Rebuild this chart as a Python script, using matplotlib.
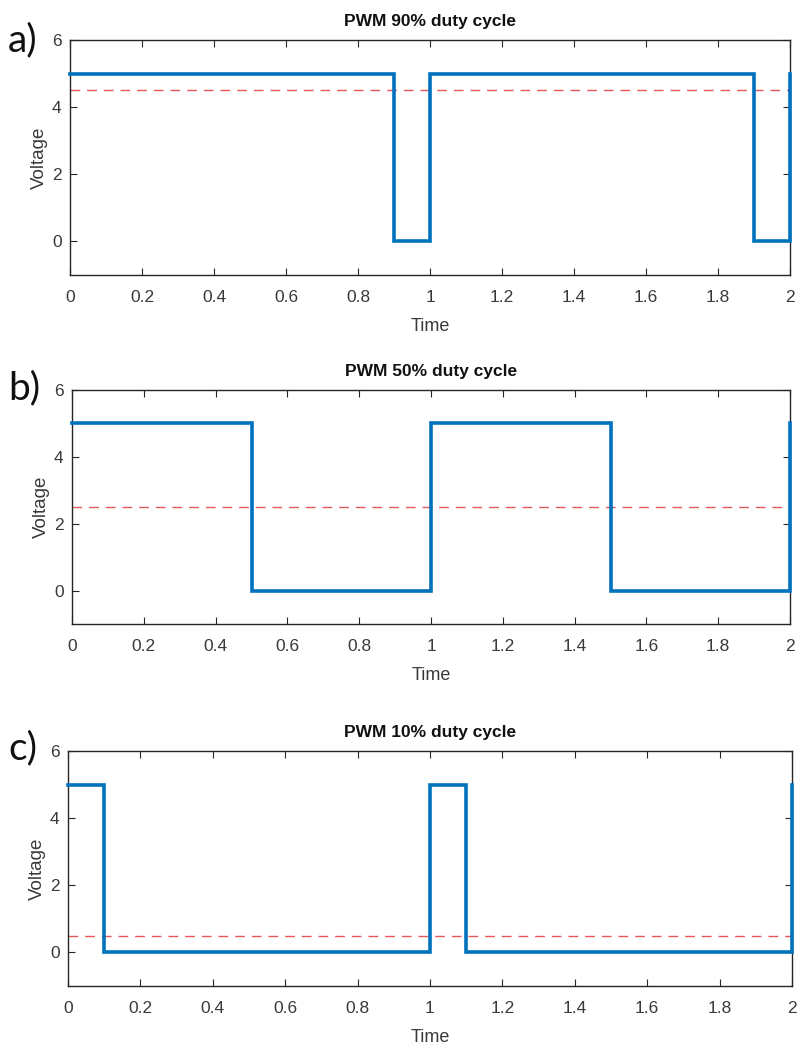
import matplotlib
matplotlib.use("Agg")
import matplotlib.pyplot as plt

# Data
t_90 = [0, 0.9, 0.9, 1.0, 1.0, 1.9, 1.9, 2.0, 2.0]
v_90 = [5, 5, 0, 0, 5, 5, 0, 0, 5]
t_50 = [0, 0.5, 0.5, 1.0, 1.0, 1.5, 1.5, 2.0, 2.0]
v_50 = [5, 5, 0, 0, 5, 5, 0, 0, 5]
t_10 = [0, 0.1, 0.1, 1.0, 1.0, 1.1, 1.1, 2.0, 2.0]
v_10 = [5, 5, 0, 0, 5, 5, 0, 0, 5]
avg_levels = [4.5, 2.5, 0.5]
titles = ["PWM 90% duty cycle", "PWM 50% duty cycle", "PWM 10% duty cycle"]
panel_labels = ["a)", "b)", "c)"]
xticks = [0, 0.2, 0.4, 0.6, 0.8, 1.0, 1.2, 1.4, 1.6, 1.8, 2.0]
xticklabels = ["0", "0.2", "0.4", "0.6", "0.8", "1", "1.2", "1.4", "1.6", "1.8", "2"]
yticks = [0, 2, 4, 6]

W, H = 797, 1045
fig = plt.figure(figsize=(W / 100, H / 100), dpi=100)
plt.rcParams['font.family'] = ['Liberation Sans', 'DejaVu Sans']

# axes pixel boxes: left, top, right, bottom
boxes = [(70, 40, 790, 275), (72, 390, 790, 624), (68, 751, 792, 986)]
series = [(t_90, v_90), (t_50, v_50), (t_10, v_10)]
label_y = [40, 388, 748]

tc = '#262626'
for i, (box, (t, v)) in enumerate(zip(boxes, series)):
    l, tp, r, b = box
    ax = fig.add_axes([l / W, 1 - b / H, (r - l) / W, (b - tp) / H])
    ax.plot(t, v, color='#0072BD', lw=2.6, solid_joinstyle='miter', clip_on=False, zorder=3)
    ax.axhline(avg_levels[i], color='#e8575a', lw=1.0, ls=(0, (7, 5)), zorder=2)
    ax.set_xlim(0, 2)
    ax.set_ylim(-1, 6)
    ax.set_xticks(xticks)
    ax.set_xticklabels(xticklabels)
    ax.set_yticks(yticks)
    ax.tick_params(direction='in', length=5, width=0.8, top=True, right=True,
                   colors=tc, labelsize=12.5, labelcolor='#3a3a3a')
    ax.tick_params(axis='x', pad=11)
    ax.tick_params(axis='y', pad=6)
    for s in ax.spines.values():
        s.set_color(tc)
        s.set_linewidth(1.0)
    ax.set_title(titles[i], fontsize=12.5, fontweight='bold', color='#111111', pad=10)
    ax.set_xlabel('Time', fontsize=13, color='#3a3a3a', labelpad=9)
    ax.set_ylabel('Voltage', fontsize=13.5, color='#3a3a3a', labelpad=3)
    fig.text(8 / W, 1 - label_y[i] / H, panel_labels[i], fontsize=28,
             family=['Lato', 'DejaVu Sans'], va='center', ha='left', color='#111111')

fig.savefig('out.png', dpi=100)
